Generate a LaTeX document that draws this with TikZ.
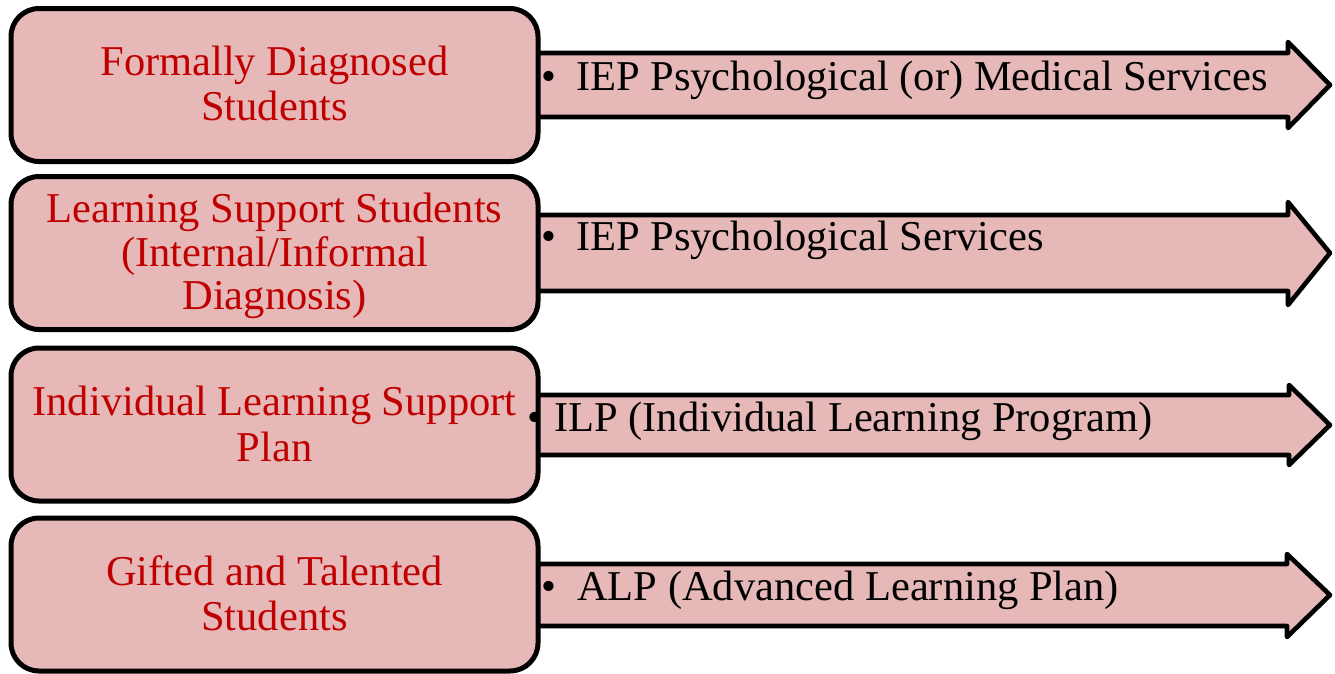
\documentclass[tikz,border=0pt]{standalone}
\usepackage{fontspec}
\setmainfont{Liberation Serif}
\definecolor{pinkfill}{RGB}{230,184,183}
\definecolor{boxred}{RGB}{192,0,0}
\tikzset{
  catbox/.style={draw=black, line width=5pt, fill=pinkfill, rounded corners=28pt,
    minimum width=527pt, minimum height=153pt, inner sep=0pt},
  arrowshape/.style={draw=black, line width=4.6pt, fill=pinkfill, line join=round},
  lefttxt/.style={text=boxred, font=\fontsize{42.5}{44}\selectfont, anchor=base, inner sep=0pt},
  righttxt/.style={text=black, font=\fontsize{42.5}{44}\selectfont, anchor=base west, inner sep=0pt},
  bullettxt/.style={text=black, font=\fontsize{42.5}{44}\selectfont, anchor=base, inner sep=0pt},
}
\begin{document}
\begin{tikzpicture}[x=1pt,y=-1pt]
\useasboundingbox (0,0) rectangle (1335,673);
% arrows (behind boxes)
\draw[arrowshape] (520,53) -- (1288,53) -- (1288,42) -- (1330,85) -- (1288,128) -- (1288,117) -- (520,117) -- cycle;
\draw[arrowshape] (520,215) -- (1288,215) -- (1288,202) -- (1330,253) -- (1288,305) -- (1288,291) -- (520,291) -- cycle;
\draw[arrowshape] (520,395) -- (1289,395) -- (1289,385) -- (1330,425) -- (1289,465) -- (1289,455) -- (520,455) -- cycle;
\draw[arrowshape] (520,564) -- (1287,564) -- (1287,554) -- (1330,595) -- (1287,637) -- (1287,626) -- (520,626) -- cycle;
% boxes
\node[catbox] (b1) at (274.5,85) {};
\node[catbox] (b2) at (274.5,253) {};
\node[catbox] (b3) at (274.5,424.5) {};
\node[catbox] (b4) at (274.5,594.5) {};
% left texts
\node[lefttxt] (t1a) at (274.5,75) {Formally Diagnosed};
\node[lefttxt] (t1b) at (274.5,120) {Students};
\node[lefttxt] (t2a) at (274.5,222) {Learning Support Students};
\node[lefttxt] (t2b) at (274.5,266) {(Internal/Informal};
\node[lefttxt] (t2c) at (274.5,309) {Diagnosis)};
\node[lefttxt] (t3a) at (274.5,415) {Individual Learning Support};
\node[lefttxt] (t3b) at (274.5,461) {Plan};
\node[lefttxt] (t4a) at (274.5,585) {Gifted and Talented};
\node[lefttxt] (t4b) at (274.5,630) {Students};
% bullets and right texts
\node[bullettxt] (u1) at (549,90) {•};
\node[righttxt] (r1) at (576,90) {IEP Psychological (or) Medical Services};
\node[bullettxt] (u2) at (549,250) {•};
\node[righttxt] (r2) at (576,250) {IEP Psychological Services};
\node[bullettxt] (u3) at (535,431) {•};
\node[righttxt] (r3) at (554,431) {ILP (Individual Learning Program)};
\node[bullettxt] (u4) at (549,600) {•};
\node[righttxt] (r4) at (577,600) {ALP (Advanced Learning Plan)};
\end{tikzpicture}
\end{document}
